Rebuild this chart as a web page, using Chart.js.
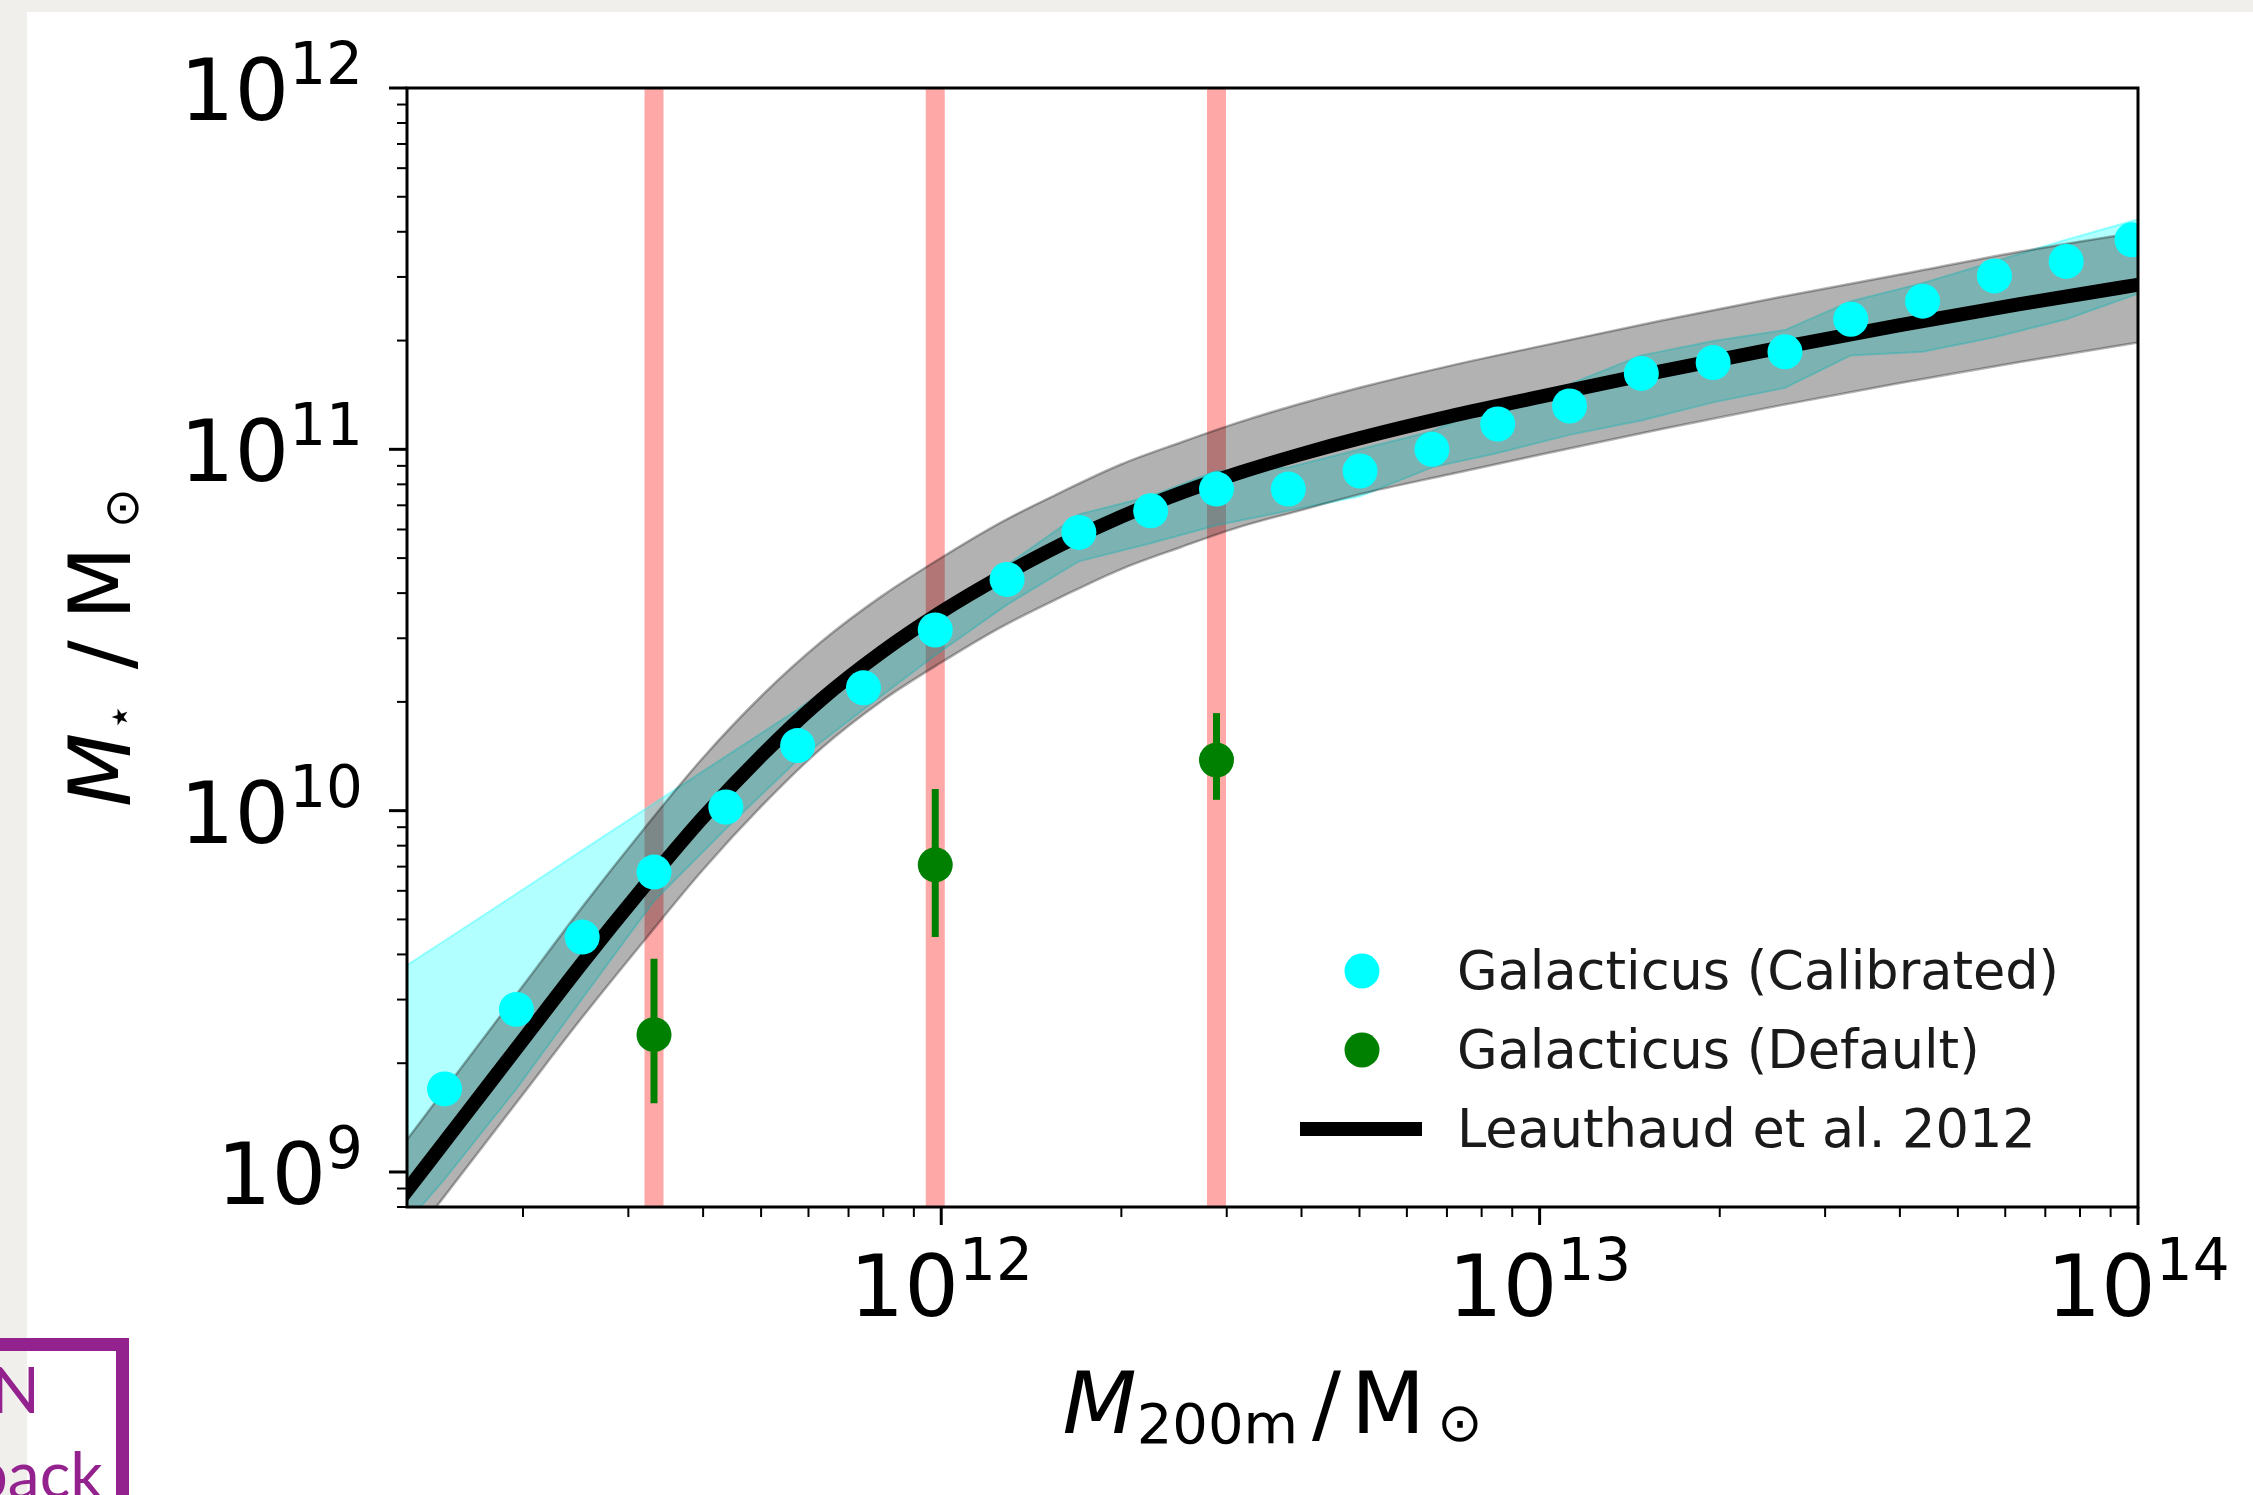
<!DOCTYPE html>
<html>
<head>
<meta charset="utf-8">
<title>Stellar mass - halo mass</title>
<script src="https://cdn.jsdelivr.net/npm/chart.js"></script>
<style>
  html, body { margin: 0; padding: 0; }
  body { width: 2253px; height: 1495px; background: #f0efec; position: relative; overflow: hidden; }
  #card { position: absolute; left: 27px; top: 12px; right: 0; bottom: 0; background: #fff; }
  #myChart { position: absolute; left: 0; top: 0; }
  #navBox { position: absolute; left: -120px; top: 1338px; width: 249px; height: 260px;
            box-sizing: border-box; border: 13px solid #93228f; }
  .nav { position: absolute; font-family: Lato, sans-serif; font-size: 64px; line-height: 64px; color: #93228f; }
</style>
</head>
<body>
<div id="card"></div>
<canvas id="myChart" width="2253" height="1495"></canvas>
<div id="navBox"></div>
<span class="nav" style="left:-9px; top:1357px;">N</span>
<span class="nav" style="left:-28px; top:1442px;">back</span>

<script>
// DATA (all masses as log10 of solar masses)

// Galacticus halo mass bins
var galLogMh = [11.17, 11.29, 11.40, 11.52, 11.64, 11.76, 11.87, 11.99, 12.11, 12.23, 12.35, 12.46, 12.58,
                12.70, 12.82, 12.93, 13.05, 13.17, 13.29, 13.41, 13.52, 13.64, 13.76, 13.88, 13.99];
// Galacticus (Calibrated) stellar mass
var calLogMs = [9.23, 9.45, 9.65, 9.83, 10.01, 10.18, 10.34, 10.50, 10.64, 10.77, 10.83, 10.89, 10.89,
                10.94, 11.00, 11.07, 11.12, 11.21, 11.24, 11.27, 11.36, 11.41, 11.48, 11.52, 11.58];

// calibrated scatter band
var bandLogMh = [11.05, 11.17, 11.29, 11.40, 11.52, 11.64, 11.76, 11.87, 11.99, 12.11, 12.23, 12.35, 12.46,
                 12.58, 12.70, 12.82, 12.93, 13.05, 13.17, 13.29, 13.41, 13.52, 13.64, 13.76, 13.88, 14.05];
var bandHi = [9.51, 9.64, 9.77, 9.89, 10.02, 10.15, 10.28, 10.41, 10.55, 10.68, 10.82, 10.87, 10.94,
              10.95, 11.00, 11.05, 11.13, 11.18, 11.26, 11.30, 11.33, 11.41, 11.46, 11.52, 11.58, 11.66];
var bandLo = [8.75, 8.98, 9.23, 9.48, 9.75, 9.95, 10.14, 10.28, 10.43, 10.57, 10.69, 10.74, 10.79,
              10.83, 10.87, 10.95, 10.99, 11.04, 11.08, 11.13, 11.17, 11.26, 11.27, 11.31, 11.36, 11.46];

// Galacticus (Default) with error bars
var defLogMh = [11.52, 11.99, 12.46];
var defLogMs = [9.38, 9.85, 10.14];
var defHi = [9.59, 10.06, 10.27];
var defLo = [9.19, 9.65, 10.03];

// selected halo masses (red bands)
var selLogMh = [11.52, 11.99, 12.46];

// Leauthaud et al. 2012 relation and its band
var leauLogMh = [11.08, 11.20, 11.30, 11.40, 11.50, 11.60, 11.70, 11.80, 11.90, 12.00, 12.10, 12.20,
                 12.30, 12.40, 12.50, 12.60, 12.70, 12.85, 13.00, 13.20, 13.40, 13.60, 13.80, 14.05];
var leauMid = [8.890, 9.148, 9.363, 9.578, 9.783, 9.978, 10.153, 10.308, 10.438, 10.550, 10.648, 10.736,
               10.813, 10.879, 10.936, 10.986, 11.031, 11.091, 11.145, 11.215, 11.281, 11.343, 11.401, 11.469];
var leauHi = [9.030, 9.293, 9.513, 9.733, 9.943, 10.143, 10.318, 10.468, 10.593, 10.700, 10.798, 10.881,
              10.958, 11.019, 11.076, 11.126, 11.171, 11.231, 11.285, 11.355, 11.421, 11.483, 11.546, 11.614];
var leauLo = [8.740, 8.998, 9.213, 9.428, 9.633, 9.833, 10.013, 10.173, 10.303, 10.410, 10.508, 10.591,
              10.668, 10.729, 10.786, 10.831, 10.876, 10.931, 10.985, 11.055, 11.121, 11.183, 11.241, 11.309];

// axes
var xLim = [1.28e11, 1e14];
var yLim = [8e8, 1e12];
var xTickExp = [12, 13, 14];
var yTickExp = [9, 10, 11, 12];
var legendLabels = ['Galacticus (Calibrated)', 'Galacticus (Default)', 'Leauthaud et al. 2012'];

var FONT = '"DejaVu Sans"';

function pts(xs, ys) {
    return xs.map(function (x, i) { return { x: Math.pow(10, x), y: Math.pow(10, ys[i]) }; });
}

function lineSet(data, color, width, order, extra) {
    var ds = {
        data: data, showLine: true, borderColor: color, borderWidth: width,
        pointRadius: 0, backgroundColor: color, fill: false, clip: 0, order: order
    };
    for (var k in extra) ds[k] = extra[k];
    return ds;
}

var datasets = [];

// RED SELECTION LINES (bottom)
selLogMh.forEach(function (lx) {
    datasets.push(lineSet([{ x: Math.pow(10, lx), y: yLim[0] }, { x: Math.pow(10, lx), y: yLim[1] }],
        'rgba(255,0,0,0.34)', 19, 100, { borderCapStyle: 'butt' }));
});

// CYAN BAND
datasets.push(lineSet(pts(bandLogMh, bandLo), 'rgba(0,255,255,0.35)', 2, 91, {}));
datasets.push(lineSet(pts(bandLogMh, bandHi), 'rgba(0,255,255,0.35)', 2, 90,
    { fill: '-1', backgroundColor: 'rgba(0,255,255,0.3)' }));

// GRAY BAND
datasets.push(lineSet(pts(leauLogMh, leauLo), 'rgba(0,0,0,0.3)', 2.5, 81, { cubicInterpolationMode: 'monotone' }));
datasets.push(lineSet(pts(leauLogMh, leauHi), 'rgba(0,0,0,0.3)', 2.5, 80,
    { fill: '-1', backgroundColor: 'rgba(0,0,0,0.3)', cubicInterpolationMode: 'monotone' }));

// BLACK LINE
datasets.push(lineSet(pts(leauLogMh, leauMid), '#000000', 14, 70, { cubicInterpolationMode: 'monotone' }));

// CYAN POINTS
datasets.push({
    data: pts(galLogMh, calLogMs), showLine: false, pointRadius: 17.5, pointBorderWidth: 0,
    backgroundColor: '#00ffff', clip: 0, order: 60
});

// GREEN ERROR BARS + POINTS
defLogMh.forEach(function (lx, i) {
    datasets.push(lineSet(pts([lx, lx], [defLo[i], defHi[i]]), '#008000', 7, 50, { borderCapStyle: 'butt' }));
});
datasets.push({
    data: pts(defLogMh, defLogMs), showLine: false, pointRadius: 17.5, pointBorderWidth: 0,
    backgroundColor: '#008000', clip: 0, order: 40
});

// helpers for text
function powLabel(c, exp, x, baseY, anchor) {
    c.font = '86px ' + FONT;
    var w1 = c.measureText('10').width;
    c.font = '58px ' + FONT;
    var w2 = c.measureText(String(exp)).width;
    var x0 = anchor === 'right' ? x - w1 - w2 : x - (w1 + w2) / 2;
    c.font = '86px ' + FONT;
    c.fillText('10', x0, baseY);
    c.font = '58px ' + FONT;
    c.fillText(String(exp), x0 + w1, baseY - 36);
}

function partsWidth(c, parts) {
    var w = 0;
    parts.forEach(function (p) { c.font = p.font; w += c.measureText(p.t).width + (p.gap || 0); });
    return w;
}

function drawParts(c, parts, x0, y0) {
    var x = x0;
    parts.forEach(function (p) {
        c.font = p.font;
        c.fillText(p.t, x, y0 + (p.dy || 0));
        x += c.measureText(p.t).width + (p.gap || 0);
    });
}

var xTitle = [
    { t: 'M', font: 'italic 86px ' + FONT },
    { t: '200m', font: '56px ' + FONT, dy: 10, gap: 14 },
    { t: '/', font: '86px ' + FONT, gap: 10 },
    { t: 'M', font: '86px ' + FONT, gap: 12 },
    { t: '\u2299', font: '54px ' + FONT, dy: 8 }
];
var yTitle = [
    { t: 'M', font: 'italic 86px ' + FONT, gap: 2 },
    { t: '\u22c6', font: '44px ' + FONT, dy: 4, gap: 34 },
    { t: '/', font: '86px ' + FONT, gap: 20 },
    { t: 'M', font: '86px ' + FONT, gap: 18 },
    { t: '\u2299', font: '48px ' + FONT, dy: 8 }
];

// AXES, TICKS, LABELS, LEGEND
var decor = {
    id: 'decor',
    afterDatasetsDraw: function (chart) {
        var c = chart.ctx, a = chart.chartArea, xs = chart.scales.x, ys = chart.scales.y;
        c.save();
        c.strokeStyle = '#000';
        c.fillStyle = '#000';

        // ticks
        for (var e = 8; e <= 14; e++) {
            for (var m = 1; m <= 9; m++) {
                var v = m * Math.pow(10, e);
                var len = m === 1 ? 18 : 10;
                c.lineWidth = m === 1 ? 3 : 2;
                if (v >= xLim[0] && v <= xLim[1] * 1.000001) {
                    var px = xs.getPixelForValue(v);
                    c.beginPath(); c.moveTo(px, a.bottom); c.lineTo(px, a.bottom + len); c.stroke();
                }
                if (v >= yLim[0] * 0.999999 && v <= yLim[1] * 1.000001) {
                    var py = ys.getPixelForValue(v);
                    c.beginPath(); c.moveTo(a.left, py); c.lineTo(a.left - len, py); c.stroke();
                }
            }
        }

        // spines
        c.lineWidth = 3;
        c.strokeRect(a.left, a.top, a.right - a.left, a.bottom - a.top);

        // tick labels
        c.textAlign = 'left';
        c.textBaseline = 'alphabetic';
        xTickExp.forEach(function (n) {
            powLabel(c, n, xs.getPixelForValue(Math.pow(10, n)), a.bottom + 109, 'center');
        });
        yTickExp.forEach(function (n) {
            powLabel(c, n, a.left - 44, ys.getPixelForValue(Math.pow(10, n)) + 32, 'right');
        });

        // axis titles
        var wx = partsWidth(c, xTitle);
        drawParts(c, xTitle, (a.left + a.right) / 2 - wx / 2, a.bottom + 226);
        var wy = partsWidth(c, yTitle);
        c.save();
        c.translate(a.left - 277, (a.top + a.bottom) / 2);
        c.rotate(-Math.PI / 2);
        drawParts(c, yTitle, -wy / 2, 0);
        c.restore();

        // legend
        var lx = a.right - 776, tx = a.right - 681;
        var rows = [a.bottom - 236, a.bottom - 157, a.bottom - 78];
        c.fillStyle = '#00ffff';
        c.beginPath(); c.arc(lx, rows[0], 17.5, 0, 2 * Math.PI); c.fill();
        c.fillStyle = '#008000';
        c.beginPath(); c.arc(lx, rows[1], 17.5, 0, 2 * Math.PI); c.fill();
        c.strokeStyle = '#000'; c.lineWidth = 14;
        c.beginPath(); c.moveTo(lx - 62, rows[2]); c.lineTo(lx + 60, rows[2]); c.stroke();
        c.fillStyle = '#1a1a1a';
        c.font = '52.5px ' + FONT;
        legendLabels.forEach(function (t, i) { c.fillText(t, tx, rows[i] + 18); });
        c.restore();
    }
};

var ctx = document.getElementById('myChart').getContext('2d');
var myChart = new Chart(ctx, {
    type: 'scatter',
    data: { datasets: datasets },
    options: {
        responsive: false,
        animation: false,
        events: [],
        layout: { padding: { left: 407, top: 88, right: 115, bottom: 288 } },
        scales: {
            x: { type: 'logarithmic', min: xLim[0], max: xLim[1], display: false },
            y: { type: 'logarithmic', min: yLim[0], max: yLim[1], display: false }
        },
        plugins: {
            legend: { display: false },
            tooltip: { enabled: false }
        }
    },
    plugins: [decor]
});
</script>
</body>
</html>
